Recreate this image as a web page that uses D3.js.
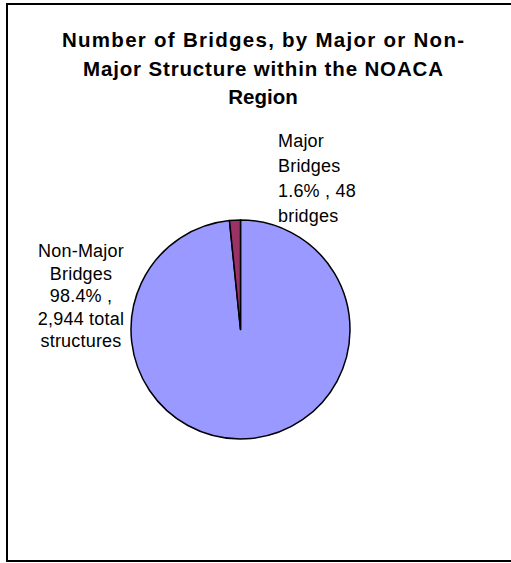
<!DOCTYPE html>
<html><head><meta charset="utf-8">
<script src="https://cdn.jsdelivr.net/npm/d3@7"></script>
<style>html,body{margin:0;padding:0;background:#fff;}</style>
</head><body>
<svg id="c" width="511" height="563"></svg>
<script>
const categories = ["Non-Major Bridges", "Major Bridges"];
const values = [2944, 48];
const percents = ["98.4%", "1.6%"];
const titleLines = ["Number of Bridges, by Major or Non-", "Major Structure within the NOACA", "Region"];
const nonMajorLabel = ["Non-Major", "Bridges", "98.4% ,", "2,944 total", "structures"];
const majorLabel = ["Major", "Bridges", "1.6% , 48", "bridges"];
const colors = ["#9999FF", "#993366"];

const svg = d3.select("#c");
svg.append("rect").attr("x", 7).attr("y", 4).attr("width", 530).attr("height", 557)
  .attr("fill", "#fff").attr("stroke", "#000").attr("stroke-width", 2);

const title = svg.append("text").attr("text-anchor", "middle")
  .attr("font-family", "Liberation Sans, Arial, sans-serif").attr("font-weight", "bold")
  .attr("font-size", 20.5).attr("fill", "#000");
const titleWidths = [402, 360, null];
titleLines.forEach((t, i) => {
  const ts = title.append("tspan").attr("x", 263).attr("y", 47 + i * 28.5).text(t);
  if (titleWidths[i]) ts.attr("textLength", titleWidths[i]).attr("lengthAdjust", "spacing");
});

const cx = 240.5, cy = 329.5, r = 109.5;
const pie = d3.pie().sort(null).value(d => d)(values);
const arc = d3.arc().innerRadius(0).outerRadius(r);
const g = svg.append("g").attr("transform", `translate(${cx},${cy})`);
g.selectAll("path").data(pie).join("path")
  .attr("d", arc).attr("fill", (d, i) => colors[i])
  .attr("stroke", "#000").attr("stroke-width", 1.5).attr("stroke-linejoin", "round");

const lab1 = svg.append("text").attr("text-anchor", "middle")
  .attr("font-family", "Liberation Sans, Arial, sans-serif").attr("font-size", 18)
  .attr("letter-spacing", 0.2).attr("fill", "#000");
nonMajorLabel.forEach((t, i) => lab1.append("tspan").attr("x", 81).attr("y", 257 + i * 22.5).text(t));

const lab2 = svg.append("text").attr("text-anchor", "start")
  .attr("font-family", "Liberation Sans, Arial, sans-serif").attr("font-size", 18)
  .attr("letter-spacing", 0.2).attr("fill", "#000");
majorLabel.forEach((t, i) => lab2.append("tspan").attr("x", 278).attr("y", 147 + i * 25).text(t));
</script>
</body></html>
